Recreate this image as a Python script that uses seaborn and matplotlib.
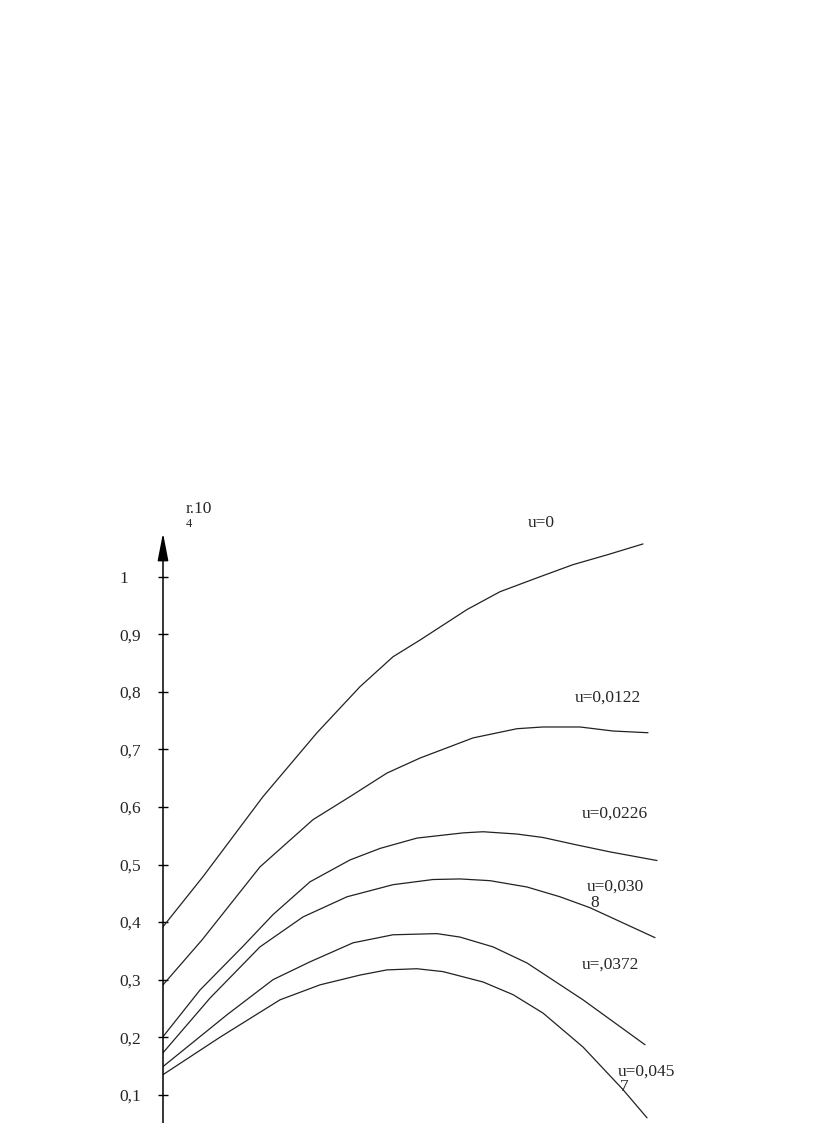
"""
r.10^4 curves for several u values
"""

import pandas as pd
import numpy as np
import matplotlib.pyplot as plt
import seaborn as sns

# curve data (x has no scale on the original, arbitrary units)
x_u0 = [0, 0.8, 2.0, 3.08, 3.94, 4.6, 5.14, 6.08, 6.74, 7.54, 8.2, 8.88, 9.6]
r_u0 = [0.392, 0.479, 0.618, 0.729, 0.809, 0.861, 0.890, 0.943, 0.974, 1.000, 1.021, 1.038, 1.057]

x_u1 = [0, 0.78, 1.94, 3.0, 3.74, 4.48, 5.14, 6.2, 7.08, 7.6, 8.34, 9.0, 9.7]
r_u1 = [0.291, 0.369, 0.496, 0.578, 0.618, 0.659, 0.685, 0.720, 0.736, 0.739, 0.739, 0.732, 0.729]

x_u2 = [0, 0.74, 1.6, 2.2, 2.94, 3.74, 4.34, 5.08, 6.0, 6.4, 7.08, 7.6, 8.28, 8.94, 9.88]
r_u2 = [0.201, 0.282, 0.358, 0.413, 0.470, 0.508, 0.528, 0.546, 0.555, 0.557, 0.553, 0.547, 0.534, 0.522, 0.507]

x_u3 = [0, 0.94, 1.94, 2.8, 3.68, 4.6, 5.4, 5.94, 6.54, 7.28, 7.94, 8.54, 9.14, 9.84]
r_u3 = [0.173, 0.268, 0.357, 0.409, 0.444, 0.465, 0.474, 0.475, 0.472, 0.461, 0.444, 0.425, 0.401, 0.373]

x_u4 = [0, 1.28, 2.2, 2.94, 3.8, 4.6, 5.48, 5.94, 6.6, 7.28, 8.4, 9.64]
r_u4 = [0.149, 0.239, 0.300, 0.331, 0.364, 0.378, 0.380, 0.374, 0.357, 0.329, 0.265, 0.187]

x_u5 = [0, 1.14, 2.34, 3.14, 3.94, 4.48, 5.08, 5.6, 6.4, 7.0, 7.6, 8.4, 9.2, 9.68]
r_u5 = [0.135, 0.200, 0.265, 0.291, 0.308, 0.317, 0.319, 0.314, 0.296, 0.274, 0.242, 0.183, 0.109, 0.060]

u_names = ["0", "0.0122", "0.0226", "0.0308", "0.0372", "0.0457"]

ytick_vals = [0.1, 0.2, 0.3, 0.4, 0.5, 0.6, 0.7, 0.8, 0.9, 1.0]
ytick_labels = ["0,1", "0,2", "0,3", "0,4", "0,5", "0,6", "0,7", "0,8", "0,9", "1"]

frames = []
for name, xs, rs in zip(u_names, [x_u0, x_u1, x_u2, x_u3, x_u4, x_u5],
                        [r_u0, r_u1, r_u2, r_u3, r_u4, r_u5]):
    frames.append(pd.DataFrame({"x": xs, "r": rs, "u": name}))
df = pd.concat(frames, ignore_index=True)

sns.set_style("white")
plt.rcParams["font.family"] = ["Liberation Serif", "DejaVu Serif"]

fig = plt.figure(figsize=(8.16, 11.23), dpi=100)
ax = fig.add_axes([163 / 816, 0, (700 - 163) / 816, (1123 - 533) / 1123])

sns.lineplot(data=df, x="x", y="r", hue="u", palette=["#222222"] * 6,
             legend=False, sort=False, estimator=None, linewidth=0.9, ax=ax)

ax.set_xlim(0, 10.74)
ax.set_ylim(0.051, 1.076)

for s in ["top", "right", "bottom", "left"]:
    ax.spines[s].set_visible(False)

# y axis with arrow
ax.annotate("", xy=(0, 1.0), xytext=(0, 0.0),
            xycoords="axes fraction", textcoords="axes fraction",
            arrowprops=dict(arrowstyle="-|>,head_length=17,head_width=3.3",
                            mutation_scale=1, color="black", lw=1.1,
                            shrinkA=0, shrinkB=0),
            annotation_clip=False)

ax.set_xticks([])
ax.set_yticks(ytick_vals)
ax.set_yticklabels(ytick_labels, fontsize=12.5)
for lab in ax.get_yticklabels():
    lab.set_horizontalalignment("left")
ax.tick_params(axis="y", direction="inout", length=7, width=1,
               color="black", left=True, pad=28)
ax.set_xlabel("")
ax.set_ylabel("")

# curve labels
fs = 12.5
ax.text(7.3, 1.094, "u=0", fontsize=fs, va="center", ha="left", clip_on=False)
ax.text(8.24, 0.790, "u=0,0122", fontsize=fs, va="center", ha="left")
ax.text(8.38, 0.588, "u=0,0226", fontsize=fs, va="center", ha="left")
ax.text(8.48, 0.461, "u=0,030", fontsize=fs, va="center", ha="left")
ax.text(8.54, 0.434, "8", fontsize=fs, va="center", ha="left")
ax.text(8.38, 0.326, "u=,0372", fontsize=fs, va="center", ha="left")
ax.text(9.1, 0.140, "u=0,045", fontsize=fs, va="center", ha="left")
ax.text(9.14, 0.114, "7", fontsize=fs, va="center", ha="left")

# axis name
ax.text(0.46, 1.117, "r.10", fontsize=fs, va="center", ha="left", clip_on=False)
ax.text(0.46, 1.092, "4", fontsize=9, va="center", ha="left", clip_on=False)

plt.savefig("out.png", dpi=100)
